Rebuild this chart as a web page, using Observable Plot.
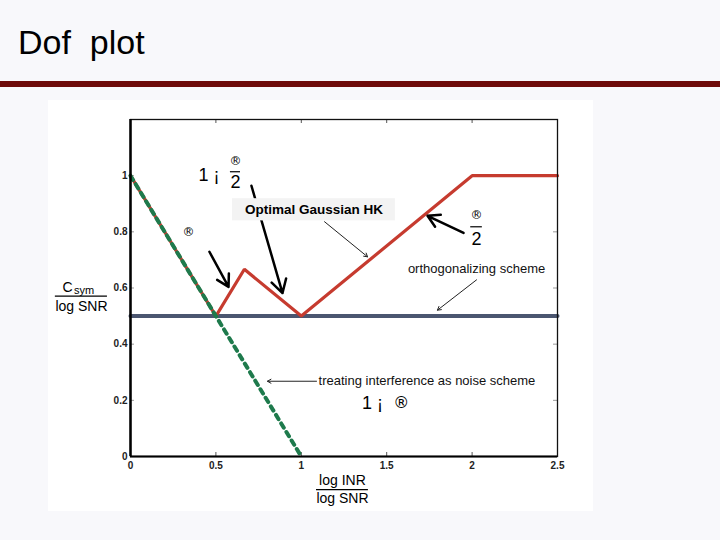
<!DOCTYPE html>
<html>
<head>
<meta charset="utf-8">
<script src="https://cdn.jsdelivr.net/npm/d3@7"></script>
<script src="https://cdn.jsdelivr.net/npm/@observablehq/plot@0.6"></script>
<style>
  html, body { margin: 0; padding: 0; width: 720px; height: 540px; background: #f8f8fb; overflow: hidden; font-family: "Liberation Sans", Arial, sans-serif; }
  #title { position: absolute; left: 18px; top: 25px; font-size: 34px; color: #000; white-space: pre; line-height: 1; }
  #bar { position: absolute; left: 0; top: 81px; width: 720px; height: 6px; background: #6e0a0a; }
  #chart { position: absolute; left: 48px; top: 100px; }
  .alpha text { font-variant-emoji: text; }
</style>
</head>
<body>
<div id="title">Dof  plot</div>
<div id="bar"></div>
<div id="chart"></div>
<script>
// x: log INR / log SNR, y: C_sym / log SNR
const xTicks = [0, 0.5, 1, 1.5, 2, 2.5];
const yTicks = [0, 0.2, 0.4, 0.6, 0.8, 1];
const optimalX = [0, 0.5, 2/3, 1, 2, 2.5];
const optimalY = [1, 0.5, 2/3, 0.5, 1, 1];
const orthoX = [0, 2.5];
const orthoY = [0.5, 0.5];
const tinX = [0, 1];
const tinY = [1, 0];

// annotation texts (data coordinates)
const bigLabels = [
  {x: 0.46, y: 1.00, text: "1 ¡"},
  {x: 0.615, y: 0.975, text: "2"},
  {x: 2.026, y: 0.773, text: "2"},
  {x: 1.417, y: 0.19, text: "1 ¡"}
];
const alphaLabels = [
  {x: 0.615, y: 1.052, text: "\u00AE\uFE0E", size: 12},
  {x: 0.34, y: 0.80, text: "\u00AE\uFE0E", size: 12},
  {x: 2.026, y: 0.858, text: "\u00AE\uFE0E", size: 12},
  {x: 1.585, y: 0.192, text: "\u00AE\uFE0E", size: 16}
];
const orthoLabel = [{x: 2.026, y: 0.668, text: "orthogonalizing scheme"}];
const tinLabel = [{x: 1.101, y: 0.268, text: "treating interference as noise scheme"}];
const fractionBars = [
  {x1: 0.585, x2: 0.644, y: 1.014},
  {x1: 1.992, x2: 2.06, y: 0.818}
];
const thickArrows = [
  {x1: 0.462, y1: 0.729, x2: 0.574, y2: 0.604},
  {x1: 0.708, y1: 0.964, x2: 0.890, y2: 0.582},
  {x1: 1.950, y1: 0.796, x2: 1.739, y2: 0.857}
];
const thinArrows = [
  {x1: 1.136, y1: 0.836, x2: 1.388, y2: 0.711},
  {x1: 2.026, y1: 0.629, x2: 1.797, y2: 0.521},
  {x1: 1.089, y1: 0.268, x2: 0.802, y2: 0.268}
];
const boxHK = [{x1: 0.597, x2: 1.551, y1: 0.839, y2: 0.918}];
const boxHKText = [{x: 1.074, y: 0.878, text: "Optimal Gaussian HK"}];
const yAxisC = [{x: -0.369, y: 0.600, text: "C"}];
const yAxisSym = [{x: -0.272, y: 0.592, text: "sym"}];
const yAxisLabel2 = [{x: -0.287, y: 0.535, text: "log SNR"}];
const yAxisBar = [{x1: -0.44, x2: -0.135, y: 0.571}];
const xAxisLabel = [
  {x: 1.241, y: -0.085, text: "log INR"},
  {x: 1.241, y: -0.150, text: "log SNR"}
];
const xAxisBar = [{x1: 1.089, x2: 1.393, y: -0.118}];

const optimal = optimalX.map((x, i) => ({x, y: optimalY[i]}));
const ortho = orthoX.map((x, i) => ({x, y: orthoY[i]}));
const tin = tinX.map((x, i) => ({x, y: tinY[i]}));

const W = 545, H = 411;
const mL = 82, mR = 36, mT = 19, mB = 55;
const innerW = W - mL - mR, innerH = H - mT - mB;
const sym = "DejaVu Sans, Liberation Sans, sans-serif";

const chart = Plot.plot({
  width: W, height: H,
  marginLeft: mL, marginRight: mR, marginTop: mT, marginBottom: mB,
  style: {background: "#fff", fontFamily: "Liberation Sans, Arial, sans-serif", overflow: "visible"},
  x: {domain: [0, 2.5]},
  y: {domain: [0, 1.2]},
  marks: [
    // tick marks (inward)
    Plot.ruleX(xTicks.slice(1, -1), {stroke: "#555", insetTop: innerH - 4}),
    Plot.ruleX(xTicks.slice(1, -1), {stroke: "#555", insetBottom: innerH - 4}),
    Plot.ruleY(yTicks.slice(1), {stroke: "#999", insetRight: innerW - 4}),
    Plot.ruleY(yTicks.slice(1), {stroke: "#999", insetLeft: innerW - 4}),
    Plot.axisX(xTicks, {tickSize: 0, tickPadding: 5, fontSize: 10, fontWeight: "bold", fill: "#222", label: null, tickFormat: d => String(d)}),
    Plot.axisY(yTicks, {tickSize: 0, tickPadding: 3, fontSize: 10, fontWeight: "bold", fill: "#222", label: null, tickFormat: d => String(d)}),
    // lines
    Plot.line(ortho, {x: "x", y: "y", stroke: "#4b5670", strokeWidth: 4}),
    Plot.line(optimal, {x: "x", y: "y", stroke: "#c63b2f", strokeWidth: 3.2, strokeLinejoin: "miter"}),
    Plot.line(tin, {x: "x", y: "y", stroke: "#1e7a4c", strokeWidth: 4, strokeDasharray: "5,5"}),
    // frame
    Plot.frame({stroke: "#111", strokeWidth: 1.3}),
    Plot.ruleX([0], {stroke: "#000", strokeWidth: 2.5}),
    Plot.ruleY([0], {stroke: "#000", strokeWidth: 2}),
    // annotations
    Plot.arrow(thickArrows, {x1: "x1", y1: "y1", x2: "x2", y2: "y2", stroke: "#000", strokeWidth: 2.5, headLength: 9}),
    Plot.rect(boxHK, {x1: "x1", x2: "x2", y1: "y1", y2: "y2", fill: "#f3f3f3"}),
    Plot.text(boxHKText, {x: "x", y: "y", text: "text", fontSize: 13.5, fontWeight: "bold", fill: "#000"}),
    Plot.arrow(thinArrows, {x1: "x1", y1: "y1", x2: "x2", y2: "y2", stroke: "#222", strokeWidth: 1, headLength: 6}),
    Plot.text(bigLabels, {x: "x", y: "y", text: "text", fontSize: 18, fill: "#000"}),
    Plot.text(alphaLabels, {x: "x", y: "y", text: "text", fontSize: d => d.size, fontFamily: sym, fill: "#000", className: "alpha"}),
    Plot.ruleY(fractionBars, {x1: "x1", x2: "x2", y: "y", stroke: "#000", strokeWidth: 1.2}),
    Plot.text(orthoLabel, {x: "x", y: "y", text: "text", textAnchor: "middle", fontSize: 13, fill: "#111"}),
    Plot.text(tinLabel, {x: "x", y: "y", text: "text", textAnchor: "start", fontSize: 13, fill: "#111"}),
    // axis titles
    Plot.text(yAxisC, {x: "x", y: "y", text: "text", fontSize: 14, fill: "#000"}),
    Plot.text(yAxisSym, {x: "x", y: "y", text: "text", fontSize: 11, fill: "#000"}),
    Plot.text(yAxisLabel2, {x: "x", y: "y", text: "text", fontSize: 14, fill: "#000"}),
    Plot.ruleY(yAxisBar, {x1: "x1", x2: "x2", y: "y", stroke: "#000", strokeWidth: 1.2}),
    Plot.text(xAxisLabel, {x: "x", y: "y", text: "text", fontSize: 14, fill: "#000"}),
    Plot.ruleY(xAxisBar, {x1: "x1", x2: "x2", y: "y", stroke: "#000", strokeWidth: 1.2})
  ]
});
document.getElementById("chart").appendChild(chart);
</script>
</body>
</html>
